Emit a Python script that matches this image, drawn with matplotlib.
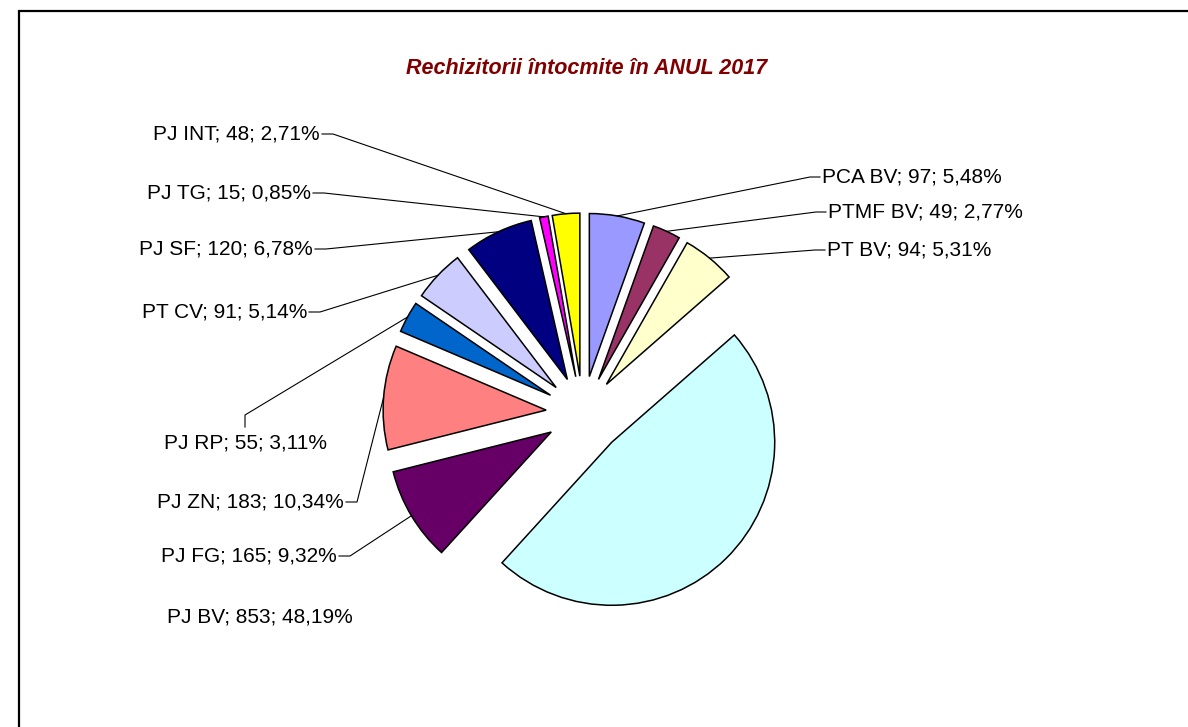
import numpy as np
import matplotlib
matplotlib.use("Agg")
import matplotlib.pyplot as plt

W, H = 1188, 727

categories = ["PCA BV", "PTMF BV", "PT BV", "PJ BV", "PJ FG", "PJ ZN",
              "PJ RP", "PT CV", "PJ SF", "PJ TG", "PJ INT"]
values = [97, 49, 94, 853, 165, 183, 55, 91, 120, 15, 48]
percent_labels = ["5,48%", "2,77%", "5,31%", "48,19%", "9,32%", "10,34%",
                  "3,11%", "5,14%", "6,78%", "0,85%", "2,71%"]
colors = ["#9999FF", "#993366", "#FFFFCC", "#CCFFFF", "#660066", "#FF8080",
          "#0066CC", "#CCCCFF", "#000080", "#FF00FF", "#FFFF00"]
title = "Rechizitorii întocmite în ANUL 2017"

# layout (pixel coords, y from top)
center_px = (583, 413)
radius = 163
explode = [37, 37, 37, 41, 37, 37, 37, 37, 37, 37, 37]
label_pos = [
    (822, 177, "left", True),
    (828, 212, "left", True),
    (827, 250, "left", True),
    (260, 617, "center", False),
    (337, 556, "right", True),
    (344, 502, "right", True),
    (246, 443, "center", True),
    (307, 312, "right", True),
    (313, 249, "right", True),
    (311, 193, "right", True),
    (320, 134, "right", True),
]

plt.rcParams['font.family'] = ['Liberation Sans', 'DejaVu Sans']
fig = plt.figure(figsize=(W / 100, H / 100), dpi=100)
ax = fig.add_axes([0, 0, 1, 1])
ax.set_axis_off()

cx, cy = center_px[0], H - center_px[1]
wedges, _ = ax.pie(values, colors=colors, startangle=90, counterclock=False,
                   radius=radius, center=(cx, cy), explode=explode,
                   wedgeprops=dict(edgecolor='black', linewidth=1.1))
ax.set_xlim(0, W)
ax.set_ylim(0, H)
ax.set_aspect('equal')
ax.set_axis_off()

fs = 15
for i, (w, cat, v, p) in enumerate(zip(wedges, categories, values, percent_labels)):
    lx, ly, ha, leader = label_pos[i]
    txt = f"{cat}; {v}; {p}"
    ax.text(lx, H - ly, txt, ha=ha, va='center', fontsize=fs, color='black')
    if not leader:
        continue
    th = np.deg2rad((w.theta1 + w.theta2) / 2)
    ex = w.center[0] + radius * np.cos(th)
    ey = w.center[1] + radius * np.sin(th)
    if ha == "left":
        sx, sy = lx - 2, H - ly
        xs = [ex, sx - 10, sx]
        ys = [ey, sy, sy]
    elif ha == "right":
        sx, sy = lx + 2, H - ly
        xs = [ex, sx + 11, sx]
        ys = [ey, sy, sy]
    else:
        sx, sy = lx - 1, H - ly + 16
        xs = [ex, sx, sx]
        ys = [ey, sy + 12, sy]
    ax.plot(xs, ys, color='black', linewidth=0.8)

ax.text(587, H - 68, title, ha='center', va='center', fontsize=15.5,
        fontweight='bold', fontstyle='italic', color='#800000')

# chart area border (left and top visible), drawn in data (pixel) coords
ax.plot([19, 19, W + 5], [-5, H - 11, H - 11], color='black', linewidth=1.6,
        clip_on=False, solid_joinstyle='miter')

fig.savefig("out.png", dpi=100)
